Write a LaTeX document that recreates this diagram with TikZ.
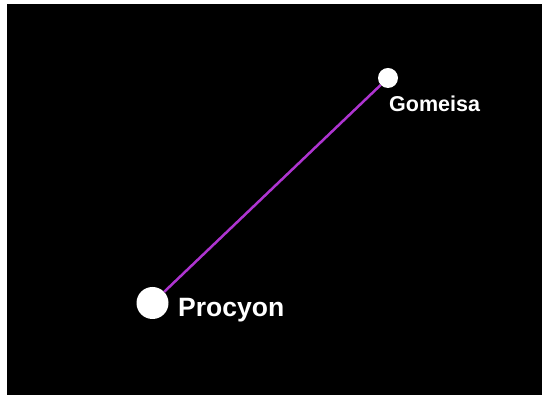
\documentclass[tikz,border=0pt]{standalone}
\usepackage{fontspec}
\setmainfont{Liberation Sans}
\usepackage{tikz}
\usepackage{xcolor}
\usetikzlibrary{positioning}
\definecolor{Sky_Black}{HTML}{000000}
\definecolor{Link_Purple}{HTML}{AE34D0}

\tikzset{
    star/.style={circle, fill=white, draw=none, inner sep=0pt},
    starlabel/.style={text=white, font=\bfseries, anchor=base west, inner sep=0pt}
}

\begin{document}
\begin{tikzpicture}[x=1pt, y=1pt]
    % Page and night sky
    \useasboundingbox (0,0) rectangle (542,395);
    \fill[white] (0,0) rectangle (542,395);
    \fill[Sky_Black] (7,0) rectangle (542,391);

    % Stars
    \node[star, minimum size=32pt] (procyon) at (152.5,92) {};
    \node[star, minimum size=20pt] (gomeisa) at (388,317) {};

    % Asterism line
    \draw[Link_Purple, line width=2.5pt] (procyon) -- (gomeisa);

    % Labels
    \node[starlabel, font=\bfseries\fontsize{26.5}{30}\selectfont] (procyonlabel) at (178,78) {Procyon};
    \node[starlabel, font=\bfseries\fontsize{21.5}{25}\selectfont] (gomeisalabel) at (389,283) {Gomeisa};
\end{tikzpicture}
\end{document}
